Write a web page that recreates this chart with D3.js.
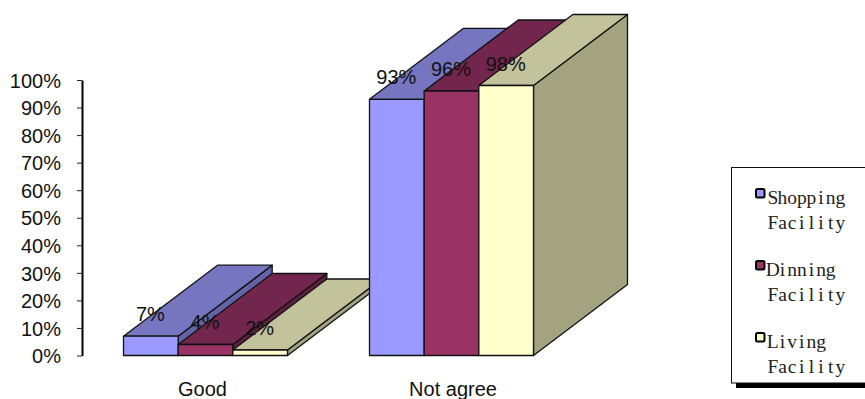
<!DOCTYPE html>
<html>
<head>
<meta charset="utf-8">
<style>
  html, body { margin: 0; padding: 0; background: #fff; overflow: hidden; }
  svg { display: block; }
  text { fill: #111; font-family: "Liberation Sans", Arial, sans-serif; }
</style>
<script src="https://cdn.jsdelivr.net/npm/d3@7/dist/d3.min.js"></script>
</head>
<body>
<svg id="chart" width="865" height="399"></svg>
<script>
// Facility ratings, percent of respondents per answer
const categories = ["Good", "Not agree"];
const seriesNames = ["Shopping Facility", "Dinning Facility", "Living Facility"];
const shopping = [7, 93];
const dinning = [4, 96];
const living = [2, 98];
const seriesValues = [shopping, dinning, living];
const tickValues = [0, 10, 20, 30, 40, 50, 60, 70, 80, 90, 100];
const frontColors = ["#9999ff", "#993366", "#ffffcc"];
const topColors = ["#7676c0", "#73264d", "#c2c29b"];
const sideColors = ["#6363a6", "#5c1f40", "#a3a380"];

const svg = d3.select("#chart");
const depthX = 94, depthY = 71;   // oblique extrusion of the bars

const y = d3.scaleLinear().domain([0, 100]).range([355.5, 80]);
const x0 = d3.scaleBand().domain(categories).range([82.5, 574.5])
  .paddingInner(1 / 3).paddingOuter(1 / 6);
const x1 = d3.scaleBand().domain(d3.range(seriesNames.length)).range([0, x0.bandwidth()]);
const labelX = d3.scalePoint().domain(categories).range([202.5, 453]);

const poly = pts => pts.map(p => p.join(",")).join(" ");

// Bars: painted group by group, left to right, so nearer faces overlap the extrusions
const bars = svg.append("g").attr("stroke", "#111")
  .attr("stroke-width", 1.3).attr("stroke-linejoin", "round");

categories.forEach((cat, c) => {
  seriesValues.forEach((vals, s) => {
    const l = x0(cat) + x1(s), r = l + x1.bandwidth();
    const t = y(vals[c]), b = y(0);
    bars.append("polygon").attr("fill", sideColors[s])
      .attr("points", poly([[r, t], [r + depthX, t - depthY], [r + depthX, b - depthY], [r, b]]));
    bars.append("polygon").attr("fill", topColors[s])
      .attr("points", poly([[l, t], [r, t], [r + depthX, t - depthY], [l + depthX, t - depthY]]));
    bars.append("polygon").attr("fill", frontColors[s])
      .attr("points", poly([[l, t], [r, t], [r, b], [l, b]]));
  });
});

// Value labels sit above each bar's front edge
categories.forEach((cat, c) => {
  seriesValues.forEach((vals, s) => {
    svg.append("text")
      .attr("x", x0(cat) + x1(s) + x1.bandwidth() / 2 - 0.5)
      .attr("y", y(vals[c]) - 15)
      .attr("text-anchor", "middle")
      .style("font-size", "20px")
      .text(vals[c] + "%");
  });
});

// Value axis
const axis = d3.axisLeft(y).tickValues(tickValues).tickFormat(d => d + "%")
  .tickSize(5).tickSizeOuter(0).tickPadding(16);
const axisG = svg.append("g").attr("transform", "translate(82,0)").call(axis);
axisG.select(".domain").attr("stroke", "#000").attr("stroke-width", 2);
axisG.selectAll(".tick line").attr("stroke", "#222").attr("stroke-width", 1);
axisG.selectAll(".tick text")
  .attr("dy", "0.36em")
  .style("font-size", "20px")
  .style("font-family", '"Liberation Sans", Arial, sans-serif');

// Category labels
svg.append("g").selectAll("text").data(categories).join("text")
  .attr("x", d => labelX(d))
  .attr("y", 396)
  .attr("text-anchor", "middle")
  .style("font-size", "20px")
  .text(d => d);

// Legend box with a hard drop shadow, running off the right edge
const legend = svg.append("g");
legend.append("rect").attr("x", 736).attr("y", 378).attr("width", 140).attr("height", 10).attr("fill", "#000");
legend.append("rect").attr("x", 731.5).attr("y", 167.5).attr("width", 140).attr("height", 215.5)
  .attr("fill", "#fff").attr("stroke", "#111").attr("stroke-width", 1);

const charStep = 9.65;
const legendText = (str, left, baseline) => {
  // Fixed-pitch setting: every glyph is centred in its own cell
  legend.append("text")
    .attr("x", Array.from(str, (_, i) => (left + charStep * (i + 0.5)).toFixed(2)).join(" "))
    .attr("y", baseline)
    .attr("text-anchor", "middle")
    .style("font-family", '"Liberation Serif", serif')
    .style("font-size", "19.5px")
    .style("fill", "#222")
    .text(str);
};

seriesNames.forEach((name, s) => {
  const top = 189 + s * 72;
  legend.append("rect").attr("x", 756).attr("y", top).attr("width", 8.5).attr("height", 8.5)
    .attr("rx", 1.5).attr("fill", frontColors[s]).attr("stroke", "#000").attr("stroke-width", 2);
  const [first, second] = name.split(" ");
  legendText(first, 768, top + 14.5);
  legendText(second, 768, top + 39.5);
});
</script>
</body>
</html>
